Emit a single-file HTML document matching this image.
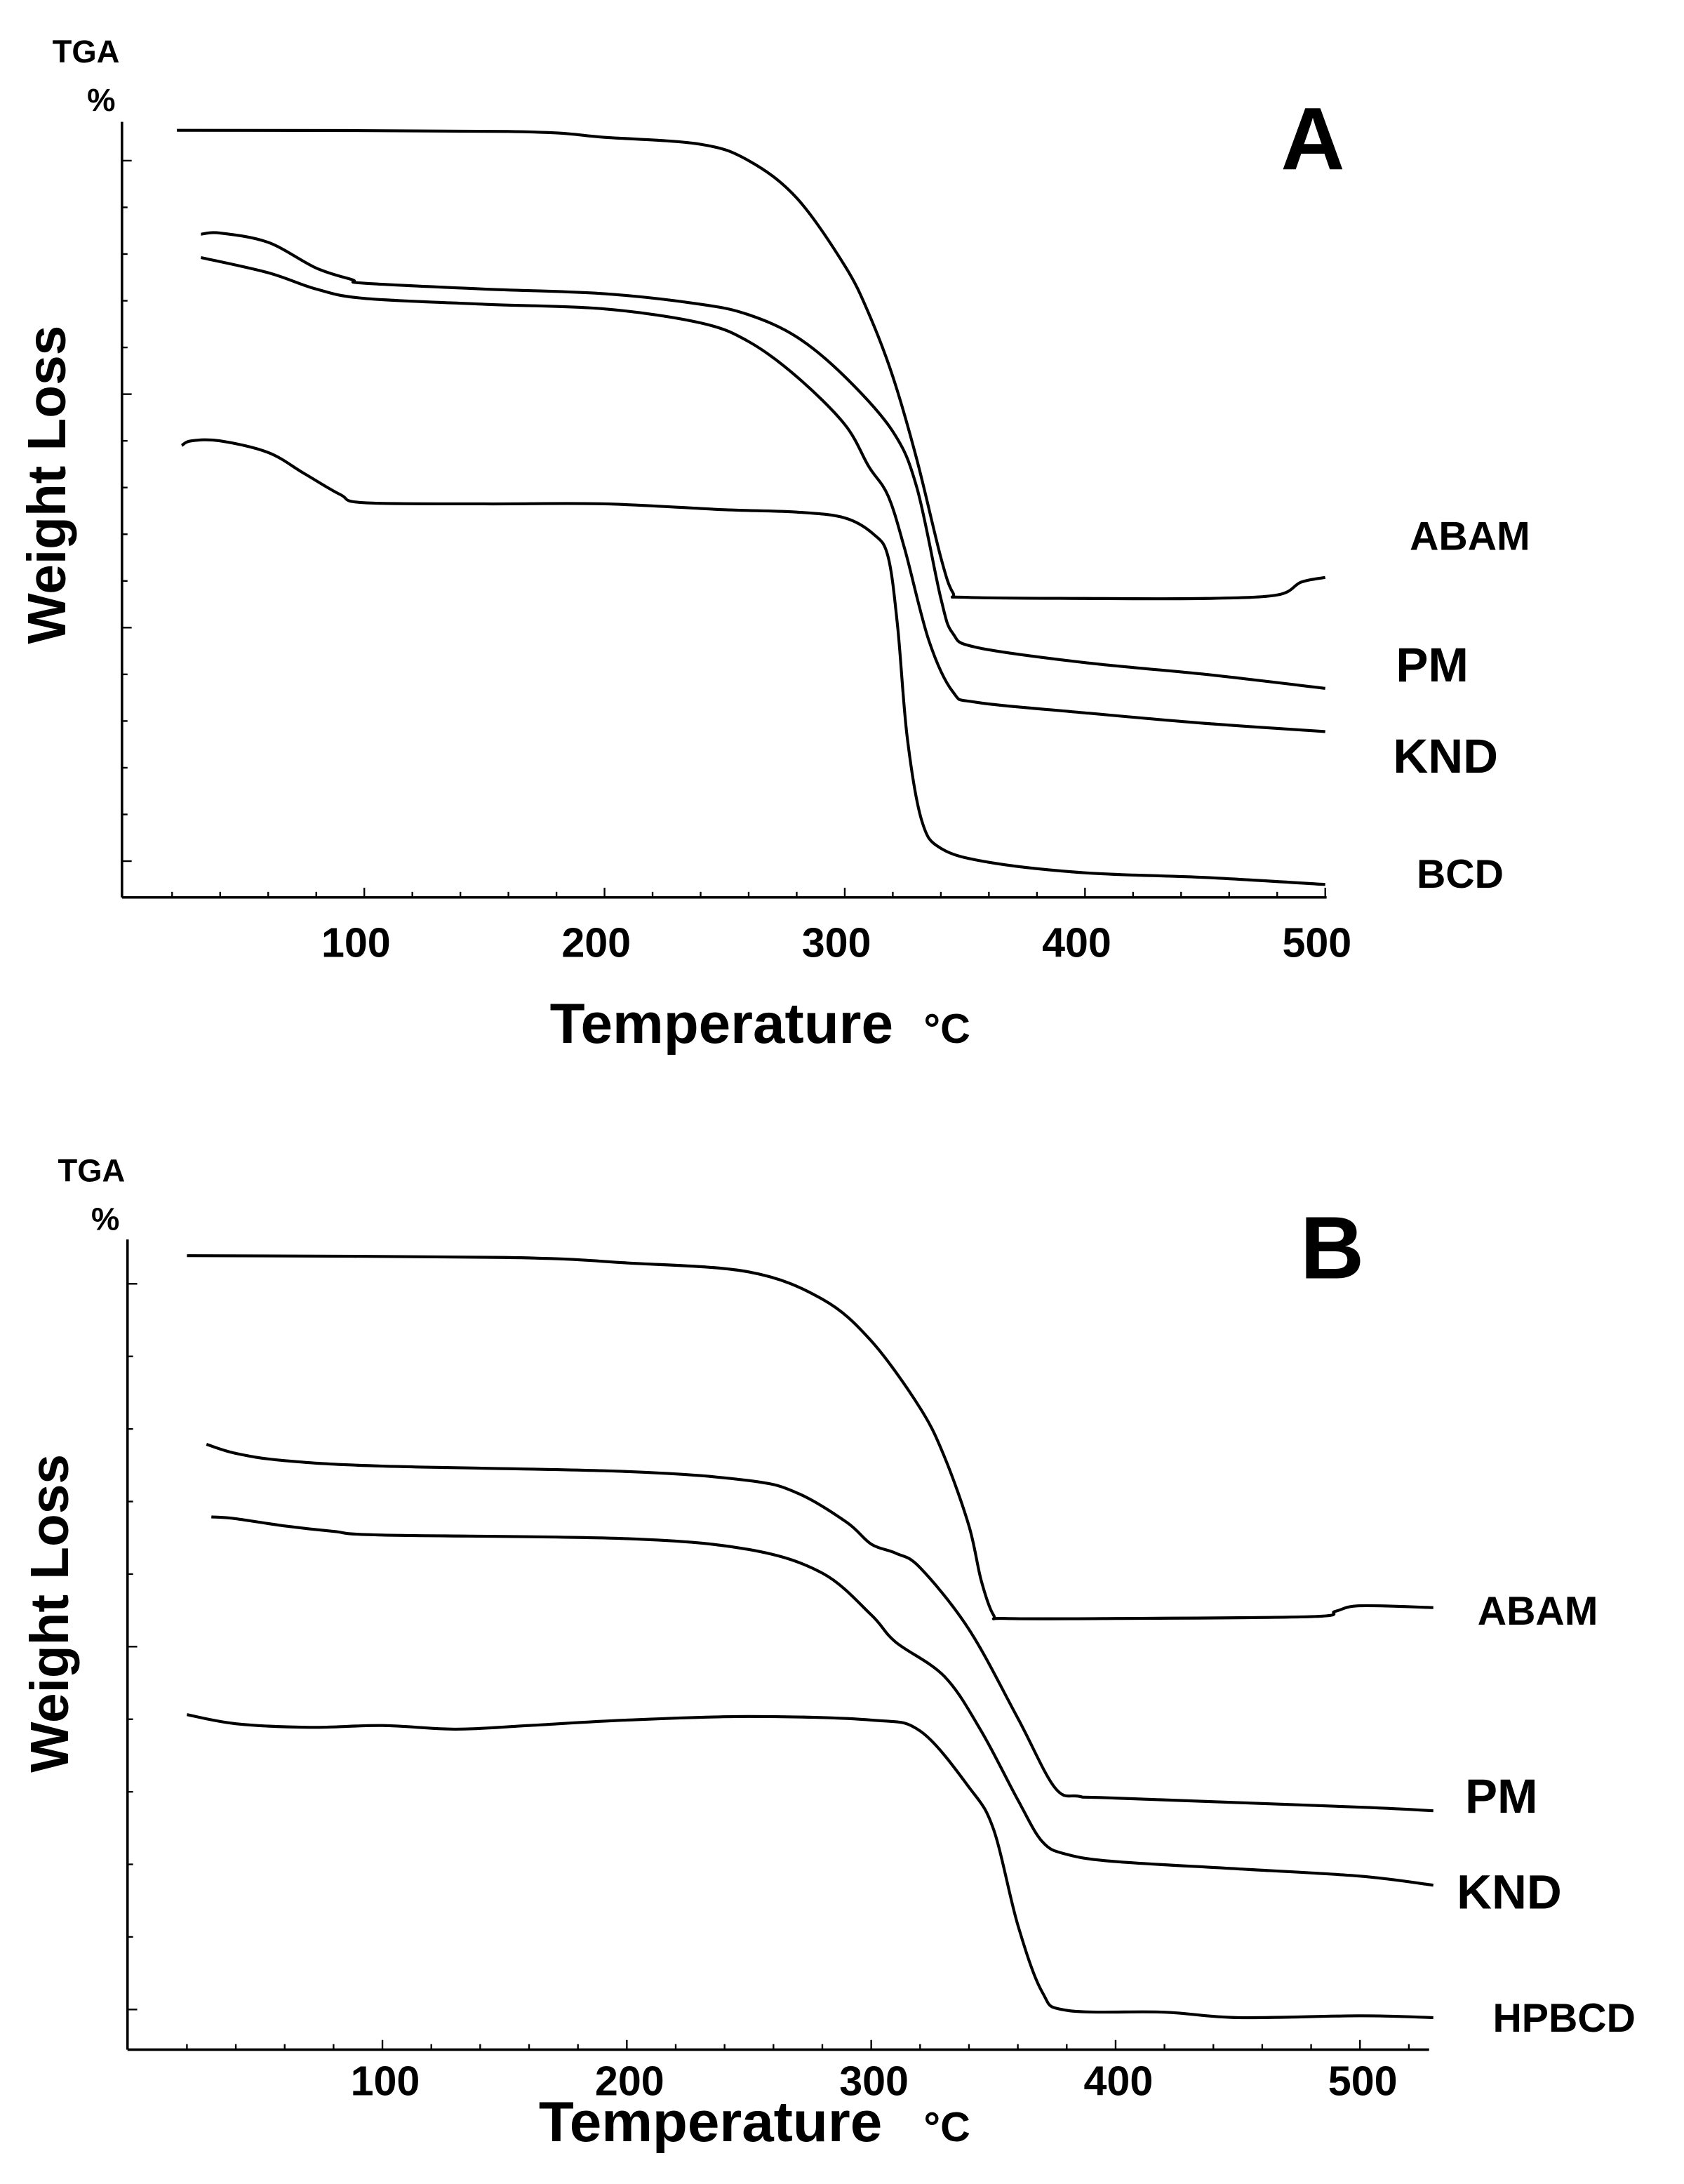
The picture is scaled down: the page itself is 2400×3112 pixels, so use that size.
<!DOCTYPE html>
<html><head><meta charset="utf-8"><style>
html,body{margin:0;padding:0;background:#fff}
svg{display:block}
text{font-family:"Liberation Sans",Arial,sans-serif;font-weight:bold;fill:#000}
</style></head><body>
<svg id="chart" width="2400" height="3112" viewBox="0 0 1216 1577" xmlns="http://www.w3.org/2000/svg">
<g id="panelA"></g>
<g id="panelB"></g>
</svg>
<script>
// ---- Panel A data ----
const aAbamT = [22,160,200,240,260,280,300,310,320,330,340,345,350,400,450,480,490,500];
const aAbamV = [102.6,102.5,102,101.4,100,96.8,91,86.9,81.5,74.4,66,63,62.6,62.5,62.5,62.8,63.9,64.3];
const aPmT = [32,40,60,80,95,100,150,200,240,260,280,300,320,330,340,345,355,400,450,500];
const aPmV = [93.7,93.8,93,90.8,89.8,89.5,89,88.6,87.7,86.8,84.9,81.5,76.8,72,62.5,59.5,58.3,57,56,54.8];
const aKndT = [32,60,80,100,150,200,240,260,280,300,310,318,325,335,345,355,400,450,500];
const aKndV = [91.7,90.4,89,88.2,87.7,87.3,86.1,84.5,81.5,77.4,73.8,71.3,66.7,58.9,54.5,53.6,52.7,51.8,51.1];
const aBcdT = [24,28,40,60,75,90,100,150,200,250,280,300,312,318,322,326,332,340,360,400,450,500];
const aBcdV = [75.6,76,76,75,73.2,71.4,70.7,70.6,70.6,70.1,69.9,69.4,68,66.1,60.1,50.6,43.5,41.1,39.9,39,38.6,38];
const aXTicks = [100,200,300,400,500];
// ---- Panel B data ----
const bAbamT = [20,150,200,250,280,300,320,330,340,345,350,355,400,480,490,500,530];
const bAbamV = [101.4,101.3,101,100.5,99,96.7,93,90.3,86.5,83.5,81.6,81.4,81.4,81.5,81.8,82.1,82];
const bPmT = [28,40,60,100,200,250,270,290,300,310,320,340,360,375,385,400,500,530];
const bPmV = [91,90.5,90.1,89.8,89.5,89,88.3,86.7,85.5,85,84.2,80.8,75.9,72.1,71.6,71.5,71,70.8];
const bKndT = [30,40,60,80,100,200,250,280,300,310,330,345,360,370,380,400,450,500,530];
const bKndV = [87,86.9,86.5,86.2,86,85.8,85.2,83.9,81.6,80.1,78.2,75.2,71.4,69.1,68.4,68,67.6,67.2,66.7];
const bHpT = [20,40,70,100,130,160,200,250,300,320,340,350,360,370,380,420,450,500,530];
const bHpV = [76.1,75.6,75.4,75.5,75.3,75.5,75.8,76,75.8,75.2,72.1,69.8,64.5,60.8,59.8,59.7,59.4,59.5,59.4];
const bXTicks = [100,200,300,400,500];

const NS = "http://www.w3.org/2000/svg";
function mk(parent, tag, attrs){const e=document.createElementNS(NS,tag);for(const k in attrs)e.setAttribute(k,attrs[k]);parent.appendChild(e);return e;}
function smooth(pts){let d="M"+pts[0][0].toFixed(2)+","+pts[0][1].toFixed(2);
 for(let i=0;i<pts.length-1;i++){const p0=pts[i-1]||pts[i],p1=pts[i],p2=pts[i+1],p3=pts[i+2]||p2;
  const c1=[p1[0]+(p2[0]-p0[0])/6,p1[1]+(p2[1]-p0[1])/6],c2=[p2[0]-(p3[0]-p1[0])/6,p2[1]-(p3[1]-p1[1])/6];
  d+=" C"+c1[0].toFixed(2)+","+c1[1].toFixed(2)+" "+c2[0].toFixed(2)+","+c2[1].toFixed(2)+" "+p2[0].toFixed(2)+","+p2[1].toFixed(2);}
 return d;}

function panel(g, cfg){
  const xS=t=>cfg.x0+t*cfg.xPer;
  const yS=v=>cfg.y100+(100-v)*cfg.yPer;
  const ax=mk(g,"line",{x1:cfg.axX,y1:cfg.axTop,x2:cfg.axX,y2:cfg.axBot,stroke:"#000","stroke-width":1.8});
  
  
  const xa=mk(g,"line",{x1:cfg.axX,y1:cfg.axBot,x2:cfg.axRight,y2:cfg.axBot,stroke:"#000","stroke-width":1.8});
  
  
  for(let T=20;T<=cfg.tMax;T+=20){
    const x=xS(T); const major=(T%100===0);
    const t=mk(g,"line",{x1:x,y1:cfg.axBot,x2:x,y2:cfg.axBot-(major?7:4),stroke:"#000","stroke-width":1.2});
    
    
  }
  cfg.ticks.forEach(T=>{
    const t=mk(g,"text",{x:xS(T)+cfg.labelDx,y:cfg.tickY,"font-size":30,"text-anchor":"middle"});t.textContent=String(T);
    
    
  });
  cfg.series.forEach(s=>{
    const pts=s.t.map((T,i)=>[xS(T),yS(s.v[i])]);
    const p=mk(g,"path",{d:smooth(pts),fill:"none",stroke:"#000","stroke-width":2.1});
    
    
  });
}

panel(document.getElementById("panelA"),{x0:89.5,xPer:1.735,y100:116,yPer:8.43,axX:88,axTop:88,axBot:648,axRight:958,tMax:500,tickY:691,labelDx:-6,ticks:aXTicks,
  series:[{name:'abam-curve-a',t:aAbamT,v:aAbamV},{name:'pm-curve-a',t:aPmT,v:aPmV},{name:'knd-curve-a',t:aKndT,v:aKndV},{name:'bcd-curve-a',t:aBcdT,v:aBcdV}]});
panel(document.getElementById("panelB"),{x0:99.6,xPer:1.765,y100:925,yPer:13.1,axX:92,axTop:895,axBot:1480,axRight:1032,tMax:520,tickY:1513,labelDx:2,ticks:bXTicks,
  series:[{name:'abam-curve-b',t:bAbamT,v:bAbamV},{name:'pm-curve-b',t:bPmT,v:bPmV},{name:'knd-curve-b',t:bKndT,v:bKndV},{name:'hpbcd-curve-b',t:bHpT,v:bHpV}]});

function minors(gid,y0,step,n,axX){const g=document.getElementById(gid);
 for(let k=0;k<n;k++){const y=y0+k*step;const major=k%5===0;
  const t=mk(g,"line",{x1:axX,y1:y,x2:axX+(major?7:4),y2:y,stroke:"#000","stroke-width":1.2});
  
  }}
minors("panelA",116,33.72,16,88);
minors("panelB",927,52.4,11,92);
</script>
<svg style="position:absolute;left:0;top:0" width="2400" height="3112" viewBox="0 0 1216 1577" xmlns="http://www.w3.org/2000/svg">
<text x="62" y="45" font-size="23" text-anchor="middle">TGA</text>
<text x="73" y="80" font-size="23" text-anchor="middle">%</text>
<text x="948" y="122" font-size="64" text-anchor="middle">A</text>
<text transform="translate(47,350) rotate(-90)" font-size="39" text-anchor="middle" textLength="230" lengthAdjust="spacingAndGlyphs">Weight Loss</text>
<text x="1018" y="397" font-size="29">ABAM</text>
<text x="1008" y="492" font-size="35">PM</text>
<text x="1006" y="558" font-size="35">KND</text>
<text x="1023" y="641" font-size="29">BCD</text>
<text x="397" y="753" font-size="41" textLength="248" lengthAdjust="spacingAndGlyphs">Temperature</text>
<text x="667" y="753" font-size="30">°C</text>

<text x="66" y="853" font-size="23" text-anchor="middle">TGA</text>
<text x="76" y="888" font-size="23" text-anchor="middle">%</text>
<text x="962" y="923" font-size="64" text-anchor="middle">B</text>
<text transform="translate(49,1165) rotate(-90)" font-size="39" text-anchor="middle" textLength="230" lengthAdjust="spacingAndGlyphs">Weight Loss</text>
<text x="1067" y="1173" font-size="29">ABAM</text>
<text x="1058" y="1309" font-size="35">PM</text>
<text x="1052" y="1378" font-size="35">KND</text>
<text x="1078" y="1467" font-size="29">HPBCD</text>
<text x="389" y="1546" font-size="41" textLength="248" lengthAdjust="spacingAndGlyphs">Temperature</text>
<text x="667" y="1546" font-size="30">°C</text>
</svg>
</body></html>
